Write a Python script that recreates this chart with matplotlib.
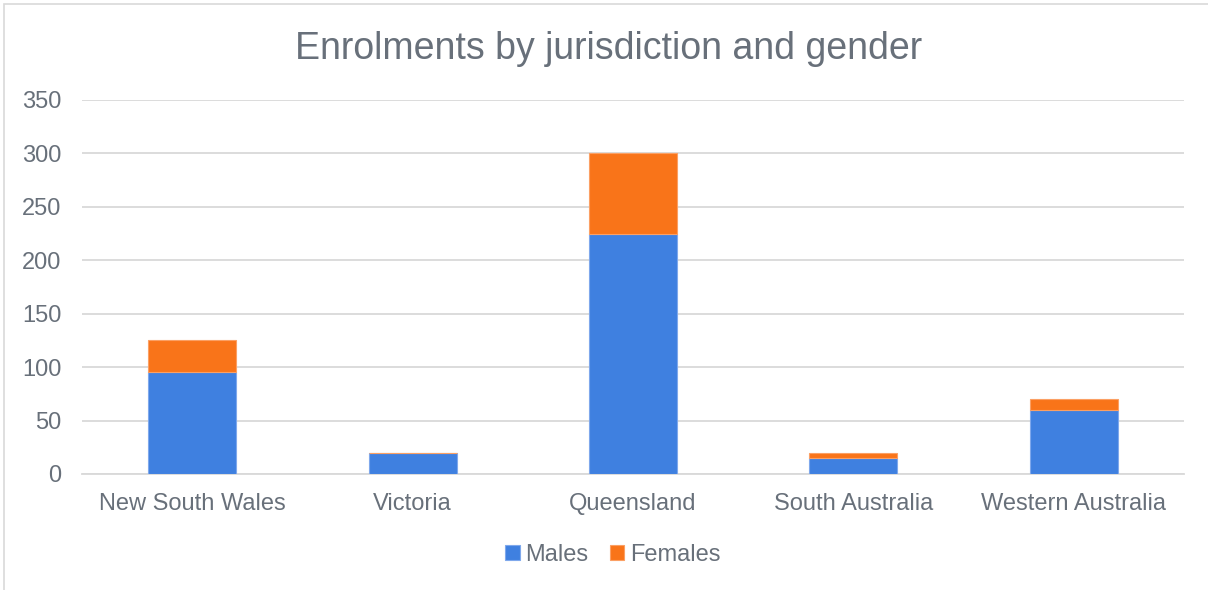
import matplotlib.pyplot as plt
import matplotlib.patches as mpatches
import numpy as np

# data
jurisdictions = ["New South Wales", "Victoria", "Queensland", "South Australia", "Western Australia"]
males = [95, 20, 225, 15, 60]
females = [30, 0, 75, 5, 10]

blue = "#3f80e0"
orange = "#f97419"
text_col = "#68707a"
grid_col = "#d9d9d9"

plt.rcParams['font.family'] = ['Liberation Sans', 'DejaVu Sans']

fig = plt.figure(figsize=(12.08, 5.90), dpi=100)
ax = fig.add_axes([82 / 1208, 116 / 590, (1184 - 82) / 1208, (474 - 100) / 590])

x = np.arange(len(jurisdictions))
w = 0.40
ax.bar(x, males, w, color=blue, edgecolor="#7fa8ec", linewidth=0.8, label="Males", zorder=3)
ax.bar(x, females, w, bottom=males, color=orange, edgecolor="#fba064", linewidth=0.8,
       label="Females", zorder=3)

ax.set_xlim(-0.5, len(jurisdictions) - 0.5)
ax.set_ylim(0, 350)
ax.set_yticks(np.arange(0, 351, 50))
ax.set_xticks(x)
ax.set_xticklabels(jurisdictions)
ax.yaxis.grid(True, color=grid_col, linewidth=1.3, zorder=0)
ax.tick_params(axis='both', length=0, labelsize=17, colors=text_col)
ax.tick_params(axis='y', pad=15)
ax.tick_params(axis='x', pad=14)
for s in ["top", "right", "left"]:
    ax.spines[s].set_visible(False)
ax.spines["bottom"].set_color(grid_col)
ax.spines["bottom"].set_linewidth(1.3)

fig.text(0.504, 1 - 49 / 590, "Enrolments by jurisdiction and gender", ha="center", va="center",
         fontsize=27, color=text_col)

handles, labels = ax.get_legend_handles_labels()
leg = fig.legend(handles, labels, loc="center", bbox_to_anchor=(613 / 1208, 1 - 555 / 590),
                 ncol=2, frameon=False, fontsize=17, handlelength=0.6, handleheight=0.6,
                 handletextpad=0.25, columnspacing=0.9, labelcolor=text_col)

# chart area border
fig.patches.append(mpatches.Rectangle((4 / 1208, -0.1), 1.2, 1 - 4 / 590 + 0.1,
                                      transform=fig.transFigure, fill=False,
                                      edgecolor=grid_col, linewidth=1.2))

fig.savefig("out.png", dpi=100)
